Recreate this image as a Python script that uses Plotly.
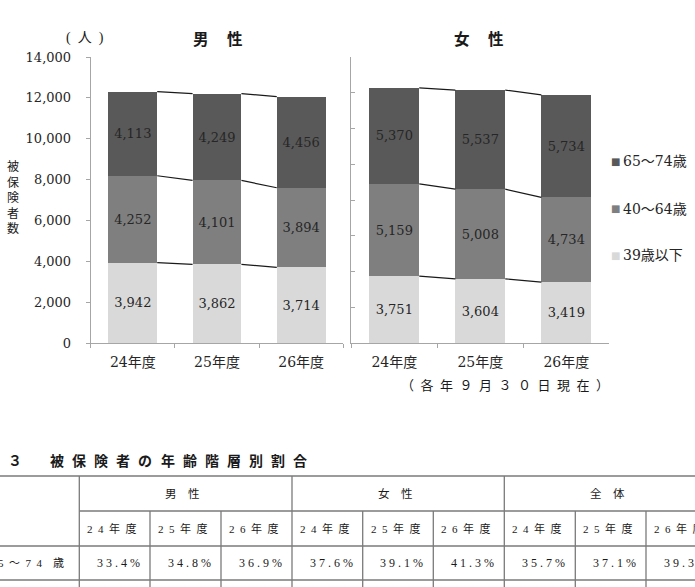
import plotly.graph_objects as go

W, H = 695, 587

# ---------------- data ----------------
years = ["24年度", "25年度", "26年度"]
age_groups = ["39歳以下", "40～64歳", "65～74歳"]
male_u39 = [3942, 3862, 3714]
male_40_64 = [4252, 4101, 3894]
male_65_74 = [4113, 4249, 4456]
female_u39 = [3751, 3604, 3419]
female_40_64 = [5159, 5008, 4734]
female_65_74 = [5370, 5537, 5734]
male_ticks = [0, 2000, 4000, 6000, 8000, 10000, 12000, 14000]
female_ticks = [0, 2000, 4000, 6000, 8000, 10000, 12000, 14000, 16000]

table_title_num = "３"
table_title = "被保険者の年齢階層別割合"
table_groups = ["男\u2003性", "女\u2003性", "全\u2003体"]
table_years = ["24", "25", "26"]
table_row_label = "65～74歳"
table_values = [33.4, 34.8, 36.9, 37.6, 39.1, 41.3, 35.7, 37.1, 39.3]

# ---------------- styles ----------------
colors = ["#d9d9d9", "#7f7f7f", "#595959"]
SERIF = "DejaVu Serif, Noto Sans CJK JP"
TSERIF = "Liberation Serif, Noto Sans CJK JP"
GOTHIC = "Noto Sans CJK JP"
AXC = "#a6a6a6"
BARGAP = 0.42


def px(x):
    return x / W


def py(y):
    return 1 - y / H


fig = go.Figure()

panels = [
    ("x", "y", [male_u39, male_40_64, male_65_74]),
    ("x2", "y2", [female_u39, female_40_64, female_65_74]),
]
for xa, ya, series in panels:
    for k, vals in enumerate(series):
        fig.add_trace(go.Bar(
            x=years, y=vals, name=age_groups[k], xaxis=xa, yaxis=ya,
            marker=dict(color=colors[k], line=dict(width=0)),
            text=[f"{v:,}" for v in vals], textposition="inside",
            insidetextanchor="middle", textangle=0,
            textfont=dict(family=SERIF, size=13, color="#262626"),
            showlegend=False, hoverinfo="skip",
        ))
    # connector lines between stacked segments
    cum = [0, 0, 0]
    half = (1 - BARGAP) / 2
    for vals in series:
        cum = [c + v for c, v in zip(cum, vals)]
        for i in range(len(years) - 1):
            fig.add_shape(type="line", xref=xa, yref=ya,
                          x0=i + half, x1=i + 1 - half, y0=cum[i], y1=cum[i + 1],
                          line=dict(color="#1a1a1a", width=1.2), layer="above")

ydom = [py(343.3), py(57.0)]
axis_common = dict(showgrid=False, zeroline=False, showline=True, linecolor=AXC,
                   linewidth=1, tickcolor=AXC, fixedrange=True, automargin=False)
fig.update_layout(
    width=W, height=H, autosize=False,
    margin=dict(l=0, r=0, t=0, b=0, pad=0, autoexpand=False),
    paper_bgcolor="white", plot_bgcolor="white",
    barmode="stack", bargap=BARGAP, showlegend=False,
    xaxis=dict(domain=[px(90.7), px(343.3)], anchor="y", type="category",
               tickson="boundaries", ticks="outside", ticklen=4,
               tickfont=dict(family=SERIF, size=14, color="#262626"),
               ticklabelstandoff=6, **axis_common),
    yaxis=dict(domain=ydom, anchor="x", range=[0, 14000], tickvals=male_ticks,
               tickformat=",", ticks="outside", ticklen=4,
               tickfont=dict(family=SERIF, size=13, color="#262626"),
               ticklabelstandoff=12, **axis_common),
    xaxis2=dict(domain=[px(351.3), px(609.3)], anchor="y2", type="category",
                tickson="boundaries", ticks="outside", ticklen=4,
                tickfont=dict(family=SERIF, size=14, color="#262626"),
                ticklabelstandoff=6, **axis_common),
    yaxis2=dict(domain=ydom, anchor="x2", range=[0, 16000], tickvals=female_ticks,
                ticks="inside", ticklen=4, showticklabels=False, **axis_common),
)

ann = []


def text(x, y, s, size, family=SERIF, anchor="center", color="#1a1a1a", bold=False):
    if bold:
        s = f"<b>{s}</b>"
    ann.append(dict(xref="paper", yref="paper", x=px(x), y=py(y), text=s,
                    showarrow=False, xanchor=anchor, yanchor="middle",
                    font=dict(family=family, size=size, color=color),
                    borderpad=0))


# chart titles
text(85, 38, "(\u2002人\u2002)", 14, family=TSERIF)
text(217.5, 38, "男\u2003\u2009性", 15.5, family=GOTHIC, bold=True)
text(479, 38, "女\u2003\u2009性", 15.5, family=GOTHIC, bold=True)
# vertical y-axis title
text(13.5, 198, "<br>".join("被保険者数"), 12, family=TSERIF)
# note under right chart
text(504.5, 385, "\u2002".join("（各年９月３０日現在）"), 13, family=TSERIF)

# legend
leg_y = [255.5, 208.5, 161]
for k in range(3):
    text(610, leg_y[k], "■", 10, family="DejaVu Sans", anchor="left", color=colors[k])
    text(622, leg_y[k], age_groups[k], 14, family=SERIF, anchor="left", color="#262626")

# ---------------- table ----------------
text(15, 460, table_title_num, 14, family=GOTHIC, bold=True)
for i, ch in enumerate(table_title):
    text(57 + i * 22.1, 460, ch, 14, family=GOTHIC, bold=True)

col_x = [79.3, 150, 221, 292, 362.7, 433.3, 504.3, 575.3, 646, 717]
row_y = [476, 511, 546, 580]
LC = "#7a7a7a"
LW = 1.3
shapes_tbl = [
    (0, row_y[0], W, row_y[0]),
    (col_x[0], row_y[1], W, row_y[1]),
    (0, row_y[2], W, row_y[2]),
    (0, row_y[3], W, row_y[3]),
]
for j, cx in enumerate(col_x):
    top = row_y[0] if j % 3 == 0 else row_y[1]
    shapes_tbl.append((cx, top, cx, H + 2))
for x0, y0, x1, y1 in shapes_tbl:
    fig.add_shape(type="line", xref="paper", yref="paper",
                  x0=px(x0), x1=px(x1), y0=py(y0), y1=py(y1),
                  line=dict(color=LC, width=LW))

for g in range(3):
    text((col_x[3 * g] + col_x[3 * g + 3]) / 2 - 3, 493.5, table_groups[g], 11.5, family=TSERIF)
    for j in range(3):
        c = 3 * g + j
        yr = table_years[j]
        label = "\u2002".join([yr[0], yr[1], "年", "度"])
        text(col_x[c] + 7, 528.5, label, 11, family=TSERIF, anchor="left")
        val = " ".join(f"{table_values[c]:.1f}%")
        text(col_x[c + 1] - 9, 563, val, 12, family=TSERIF, anchor="right")
row_lbl = "\u2002".join(table_row_label[:-1]) + "\u2003" + table_row_label[-1]
text(65, 563, row_lbl, 11, family=TSERIF, anchor="right")

fig.update_layout(annotations=ann)
fig.write_html("out.html")
